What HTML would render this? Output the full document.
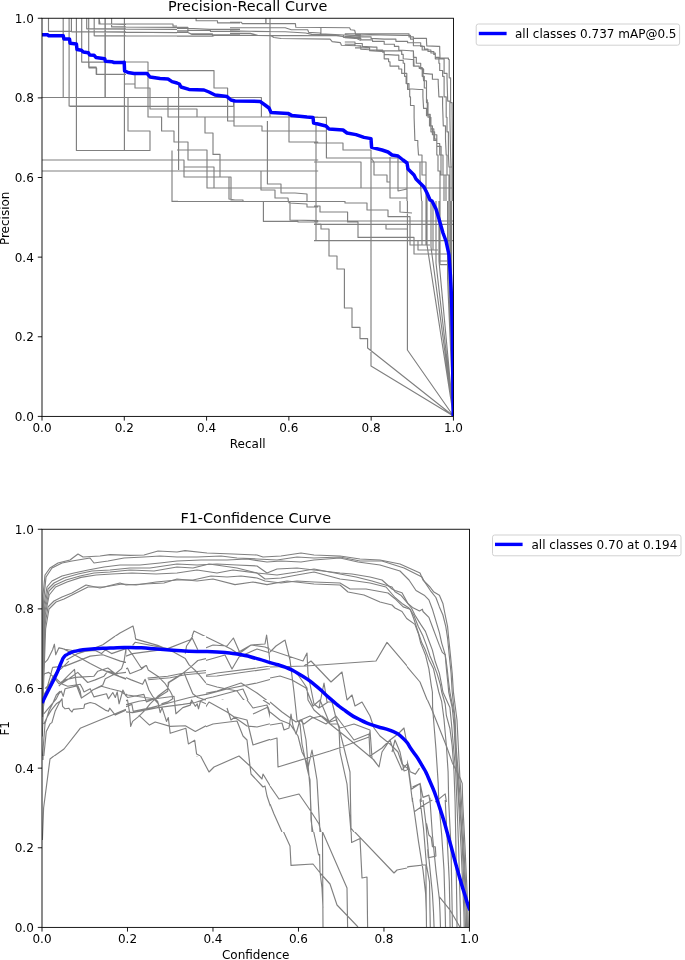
<!DOCTYPE html>
<html><head><meta charset="utf-8"><title>Curves</title>
<style>
html,body{margin:0;padding:0;background:#fff}
svg{display:block}
text{font-family:"DejaVu Sans","Liberation Sans",sans-serif;font-size:12px;fill:#000}
.t{font-size:14.4px}
.g{fill:none;stroke:#808080;stroke-width:1.15;stroke-linejoin:round}
.b{fill:none;stroke:#0000ff;stroke-width:3.5;stroke-linejoin:round;stroke-linecap:butt}
</style></head><body>
<svg width="685" height="960" viewBox="0 0 685 960">
<rect width="685" height="960" fill="#fff"/>
<defs><clipPath id="p0"><rect x="0" y="0" width="685" height="201"/></clipPath><clipPath id="p1"><rect x="0" y="201" width="685" height="219"/></clipPath><clipPath id="f0"><rect x="42" y="529" width="135" height="107"/></clipPath><clipPath id="f1"><rect x="42" y="756" width="135" height="171"/></clipPath><clipPath id="f2"><rect x="126" y="636" width="80" height="120"/></clipPath><clipPath id="f3"><rect x="42" y="636" width="84" height="120"/></clipPath><clipPath id="f4"><rect x="177" y="529" width="29" height="107"/><rect x="206" y="529" width="64" height="171"/><rect x="270" y="529" width="44" height="111"/></clipPath><clipPath id="f5"><rect x="177" y="756" width="29" height="171"/><rect x="206" y="700" width="64" height="227"/><rect x="270" y="832" width="10" height="95"/></clipPath><clipPath id="f6"><rect x="270" y="640" width="137" height="192"/></clipPath><clipPath id="f7"><rect x="407" y="529" width="63" height="171"/></clipPath><clipPath id="f8"><rect x="407" y="700" width="63" height="227"/></clipPath><clipPath id="f9"><rect x="280" y="832" width="127" height="95"/></clipPath><clipPath id="c1"><rect x="42" y="18.25" width="411.45" height="398.15"/></clipPath>
<clipPath id="c2"><rect x="42" y="529.25" width="427.45" height="398.15"/></clipPath></defs>

<g clip-path="url(#c1)">
<path class="g" d="M172,150.5 L172,201.4 L178,201.4"/>
<path class="g" d="M316,123 L316,240.5"/>
<path class="g" clip-path="url(#p0)" d="M48.5,18.1 L48.5,31.3 L71.4,31.3 L71.4,18.1 M71.4,31.9 L126,31.9 M63.2,18.1 L63.2,97.2 M69.1,18.1 L69.1,106 L126,106 M81.7,18.1 L81.7,62.1 L126,62.1 M86.7,18.1 L86.7,28.8 L126,28.8 M88.7,18.1 L88.7,67.1 L96.2,67.1 L96.2,74.3 L126,74.3 M94.2,18.1 L94.2,35.7 L126,35.7 M99,18.1 L100,23.8 L126,24.4 M105.3,18.1 L105.3,97.2 M111.6,18.1 L111.6,26.9 L126,26.9 M41.9,97.5 L126,97.5 M76.4,18 L76.4,150.5 L150,150.5 L150,131 L128,131 L128,97 M105,18 L105,97 M124.4,18 L124.4,150 M81.4,62 L148,62 L148,117 L161.6,117 L161.6,131 L174,131 L174,142 L177,142 M89,62 L89,68 L96.6,68 L96.6,74.4 L124.4,74.4 M124.4,84 L135,84 M135,73 L135,88 L150,88 L150,109 L177,109 M148,70.6 L177,70.6 M42,97.5 L177,97.5 M69.6,106.4 L177,106.4 M168,97 L168,117 L177,117 M42,160 L177,160 M42,171 L177,171 M94.4,36 L177,36 M99,18 L99,24 L173,24 L173,26 L177,26 M111.6,18 L111.6,27 L177,27.4 M86.4,29 L177,29.4 M98,32 L177,32.6 M177,70.6 L214,70.6 L214,88 L227.6,88 L227.6,121 L234,121 M177,97.5 L261.4,97.5 L261.4,117 M177,106.4 L233.6,106.4 L233.6,101 M234,101 L234,126 L262,126 L262,131 L318.2,131 M177,109 L197,109 L197,117 M177,117 L318.2,117 M205,117 L205,133 L213,133 L213,154.4 L220,154.4 L220,177 L231,177 L231,200 L243,200 L243,202 M178.6,84 L178.6,170 M177,142 L188,142 L188,160 L318.2,160 M177,150 L207,150 L207,188 L318.2,188 M214,188 L214,167 L184,167 M177,171 L318.2,171 M177,160 L184,160 L184,177 L220,177 M229,177 L229,199 L235,200 M261,170.6 L261,190 L275,190 L275,198 L288,198 L289,207 M267.4,121 L267.4,184 L281,184 L281,193 L295,193 L307,194 L307,207 M289,115 L289,142 L318.2,142 M270,18 L270,117 M266,18 L266,24 M177,202 L318.2,202 M263.4,202 L263.4,207 M196.1,18.1 L196.1,20.7 L217.5,20.7 L217.5,22.8 L240,22.8 M177,27.3 L187.9,27.3 L187.9,28.3 L210.4,29.3 L240,29.3 M177,28.3 L187.9,28.3 L187.9,30.3 L210.4,30.3 L210.4,31.3 L240,31.3 M177,30.9 L187.9,30.9 L187.9,32.4 L190.9,33.8 L212.4,33.8 L212.4,34.8 L240,34.8 M177,32.4 L187.9,32.4 L192,34.4 L212.4,34.4 L212.4,35.4 L240,35.4 M177,36.1 L212.4,36.1 L214.4,35.4 L240,35.4 M230,22.2 L241.2,22.2 L242.3,23.6 L295.4,23.6 L295.8,27.3 L349.6,27.7 L350.6,29.7 L354.7,30.3 L355.7,34.4 L360.8,34.4 M230,27.7 L285.2,27.7 L291.3,29.7 L307.7,29.7 L308.7,32.4 L319.9,33 L320.9,33.8 L344.4,35 L360.8,35.8 M320.9,27.7 L320.9,33.4 M230,30.9 L250.4,31.3 L285.2,31.8 L305.6,33 L311.7,34.4 L343.4,35 L343.4,37.5 L354.7,37.5 L358.8,39.5 L360.8,40.5 M230,33.4 L250.4,33.4 L257.6,35.4 L336.3,35.8 L344.4,36.7 L360.8,37.9 M230,35.4 L257.6,35.4 L270.9,35.8 L273.9,37.5 L281.1,38.5 L330.1,39.1 L332.2,41.6 L340.4,42.6 L341.4,45.2 L356.7,45.7 L360.8,46.1 M265.8,18.1 L265.8,23.6 M344.8,33.7 L355,33.7 L405.4,33.7 L409,33.7 L409,36.9 L413.4,36.9 L413.4,38.1 L423.6,38.4 L426.5,38.4 L426.5,41.3 L426.8,45.9 L438.2,46.4 L439.7,46.4 L439.7,50 L440,58.1 L448.4,58.1 L448.4,59.5 L449.2,59.5 L449.2,77.8 L450.6,77.8 L450.6,102.6 L452.1,102.6 L452.1,108.4 L452.5,155 L452.4,207 M344.8,35.1 L355,35.4 L369.6,34.7 L403.2,35.4 L410.5,35.4 L410.5,39.1 L413.4,39.1 L413.4,42.7 L420.7,42.7 L420.7,46.4 L424.4,46.4 L424.4,49 L428,49 L428,51.5 L433.8,51.5 L433.8,54.4 L435.3,54.4 L435.3,58.8 L443.3,58.8 L444.1,58.8 L444.1,73.4 L447,73.4 L447,77.8 L447.7,101.1 L449.9,101.1 L449.9,117.2 L450.6,155 L451,167 L452,167 L452,207 M344.8,36.3 L355,36.9 L371.1,36.9 L371.1,38.4 L384.2,39.1 L395.9,39.1 L395.9,41.3 L407.6,41.3 L407.6,42.7 L413.4,42.7 L413.4,45.7 L422.2,45.7 L422.2,50 L430.9,50 L430.9,53 L435.3,53 L435.3,57.3 L438.9,57.3 L438.9,63.2 L439.7,63.2 L439.7,70.5 L442.6,70.5 L442.6,76.3 L444.1,76.3 L444.1,96.8 L446.2,96.8 L446.2,117.2 L447,117.2 L447,131.8 L448.4,131.8 L448.4,155 L449,167 L450,167 L450,207 M344.8,37.6 L355,38.4 L360.8,38.4 L360.8,39.8 L372.5,39.8 L372.5,41.3 L384.2,41.3 L384.2,44.2 L394.4,44.2 L394.4,46.4 L398.8,46.4 L398.8,50 L410.5,50.8 L413.4,50.8 L413.4,57.3 L416.3,57.3 L416.3,63.2 L420.7,63.2 L420.7,69 L423.6,69 L423.6,73.4 L430.9,74.1 L432.4,74.1 L432.4,79.2 L438.2,79.2 L438.2,82.2 L438.9,96.8 L442.6,96.8 L442.6,105.5 L443.3,125.9 L445.5,125.9 L445.5,139.1 L446.2,155 L447,155 L447,175 L449,175 L449,207 M344.8,42 L355,42 L355,43.5 L362.3,43.5 L362.3,46.4 L374,47.1 L376.9,47.1 L376.9,50.8 L397.3,50.8 L401.7,50.8 L401.7,54.4 L403.2,54.4 L403.2,58.8 L411.9,59.5 L413.4,59.5 L413.4,66.1 L419.2,66.1 L419.2,67.6 L422.2,67.6 L422.2,76.3 L424.3,76.3 L424.3,88 L426.5,88 L426.5,99.7 L427.3,99.7 L427.3,114.3 L430.2,114.3 L430.2,125.9 L432.4,125.9 L432.4,134.7 L436.8,134.7 L436.8,143.5 L439.7,143.5 L439.7,155 L441,155 L441,175 L444,175 L444,207 M344.8,44.2 L355,44.2 L355,45.7 L360.8,45.7 L360.8,49.3 L374,50 L382.7,50 L382.7,52.2 L384.2,52.2 L384.2,58.8 L388.6,58.8 L388.6,61.7 L390,61.7 L390,66.1 L398.8,66.1 L398.8,69 L401.7,69 L401.7,73.4 L404.6,73.4 L404.6,76.3 L406.1,76.3 L406.1,83.6 L409,83.6 L409,88.7 L419.2,89.5 L422.9,89.5 L422.9,96.8 L423.6,108.4 L426.5,108.4 L426.5,115.7 L429.5,115.7 L429.5,125.9 L430.9,125.9 L430.9,131.8 L434.6,131.8 L434.6,139.1 L436.8,139.1 L436.8,146.4 L441.1,146.4 L441.1,155 L443,155 L443,175 L446,175 L446,207 M355,47.8 L369.6,47.8 L369.6,50.8 L381.3,51.5 L384.2,51.5 L384.2,54.4 L395.9,55.1 L398.8,55.1 L398.8,60.3 L403.2,60.3 L403.2,63.2 L404.6,63.2 L404.6,73.4 L406.8,73.4 L406.8,83.6 L407.6,83.6 L407.6,89.5 L409.7,89.5 L409.7,96.8 L410.5,96.8 L410.5,105.5 L414.1,105.5 L414.1,117.2 L414.9,140.5 L417.8,140.5 L417.8,144.9 L418.5,155 L420,155 L422,155 L422,175 L426,175 L426,191 L427,191 L427,207 M413.4,51.5 L414.1,66.1 L419.2,66.1 L419.2,68.3 L422.9,68.3 L422.9,73.4 L423.6,80.7 L426.5,80.7 L426.5,102.6 L428,102.6 L428,117.2 L430.9,117.2 L430.9,128.9 L433.8,128.9 L433.8,140.5 L436.8,140.5 L436.8,155 L438,155 L438,171 L440,171 L440,207 M314,117.4 L326.4,117.4 L326.4,158 L398,158 M314,143 L343,143 L343,150 L371,150 L371,207 M407,163 L407,207 M314,162 L361,162 L361,188 M314,188 L455,188 M371,162 L426,162 L426,207 M390,157 L390,198 L407,198 L407,189 L398,191 L398,157 M371,158 L374,162 L374,175 L387,175 L387,182 L390,182 M314,202 L345,202 L345,203 L398,203 M420,162 L420,177 L422,207 M314,131 L326.4,131"/>
<path class="g" clip-path="url(#p1)" d="M177,201.4 L318.2,201.4 M263.4,201.4 L263.4,221.4 L298,221.4 L298,222 L318.2,222 M290,201.4 L290,220 L318.2,220.6 M275,195 L275,198 L288,198 L289,203 L307,204 L307,207 L318.2,207 M229,195 L229,200 L244,201 M371,195 L371,366 L453.4,416 M314,224 L321,224 L321,229 L329,229 L329,256 L337,256 L337,269 L344.4,269 L344.4,308 L352,308 L352,327.4 L360,327.4 L360,338.6 L367.6,338.6 L367.6,348 L453.4,416 M407.4,195 L407.4,350 L453.4,416 M427,195 L427,245 L453.4,416 M431,195 L431,247 L453.4,416 M436,195 L436,263 L453.4,416 M439,195 L439,261 L453.4,416 M314,201.4 L345,201.4 L345,203 L367,203 L367,210 L388,210 L388,216.6 L410,216.6 L410,245 L430,245 M314,206 L320,206 L320,212 L347.6,212 L347.6,222 L358,222 L358,237.4 L414,237.4 L414,254 L448,254 M314,221 L455,221 M314,224.4 L386,224.4 L386,229 L408,229 M314,224.4 L455,224.4 M314,240.6 L455,240.6 M390,195 L390,197.4 L400,197.4 L400,212 L412,213 M418,241 L418,250 L438,250 M440,261 L448,261 M440,264.6 L448,264.6 M447.6,195 L447.6,279 L453.4,416 M449,195 L449,279 L453.4,416 M450.4,195 L450.4,279 L453.4,416 M451.6,195 L451.6,279 L453.4,416 M422,195 L422,245 M426,195 L426,245 M433,195 L433,250 M440,195 L440,264.6"/>
<path class="b" d="M41.9,34.8 L47.5,34.8 L48.8,35.7 L63.2,35.7 L63.9,38.9 L69.5,39.1 L70.1,43.2 L76.4,43.9 L77,49.5 L81.4,50.2 L83.3,52 L88.3,52.7 L89.6,54.9 L94,55.2 L95.9,57.4 L104.7,58.7 L105.3,61.2 L111.6,61.7 L114.1,62.5 L123.5,62.5 L124.2,62.2 L124.6,71 L128,72.4 L134,73.4 L147,73.4 L150,77 L160,78.6 L168,79 L172,81.6 L177,83 L179.4,84 L181,87 L189,89.4 L204,90 L209,92 L215,95 L227,96.6 L231,100 L235,101 L260,101.4 L265,105 L269,108 L271,112.4 L288,113.4 L292,115.6 L307,117 L313,117.4 L313.6,123 L318,124 L326,126 L329,129 L343,130 L347,133 L356,134.6 L364,137.4 L371,138.6 L371.6,147.4 L382,150 L388,152 L392,155 L398,156 L403,160 L407,163 L408,169 L414,175 L416,179 L424,187 L427,193 L430,200 L432,201 L436,209 L439,219 L443,233 L446,241 L449,255 L450.4,275 L451.6,299 L452.4,335 L453.2,416"/>
</g>
<rect x="42" y="18.25" width="411.45" height="398.15" fill="none" stroke="#000" stroke-width="0.9"/>
<line x1="42" y1="416.4" x2="42" y2="420.59999999999997" stroke="#000" stroke-width="0.9"/>
<text x="42" y="432.4" text-anchor="middle">0.0</text>
<line x1="37.8" y1="416.4" x2="42" y2="416.4" stroke="#000" stroke-width="0.9"/>
<text x="33.8" y="420.8" text-anchor="end">0.0</text>
<line x1="124.29" y1="416.4" x2="124.29" y2="420.59999999999997" stroke="#000" stroke-width="0.9"/>
<text x="124.29" y="432.4" text-anchor="middle">0.2</text>
<line x1="37.8" y1="336.77" x2="42" y2="336.77" stroke="#000" stroke-width="0.9"/>
<text x="33.8" y="341.17" text-anchor="end">0.2</text>
<line x1="206.58" y1="416.4" x2="206.58" y2="420.59999999999997" stroke="#000" stroke-width="0.9"/>
<text x="206.58" y="432.4" text-anchor="middle">0.4</text>
<line x1="37.8" y1="257.14" x2="42" y2="257.14" stroke="#000" stroke-width="0.9"/>
<text x="33.8" y="261.54" text-anchor="end">0.4</text>
<line x1="288.87" y1="416.4" x2="288.87" y2="420.59999999999997" stroke="#000" stroke-width="0.9"/>
<text x="288.87" y="432.4" text-anchor="middle">0.6</text>
<line x1="37.8" y1="177.51" x2="42" y2="177.51" stroke="#000" stroke-width="0.9"/>
<text x="33.8" y="181.91" text-anchor="end">0.6</text>
<line x1="371.16" y1="416.4" x2="371.16" y2="420.59999999999997" stroke="#000" stroke-width="0.9"/>
<text x="371.16" y="432.4" text-anchor="middle">0.8</text>
<line x1="37.8" y1="97.88" x2="42" y2="97.88" stroke="#000" stroke-width="0.9"/>
<text x="33.8" y="102.28" text-anchor="end">0.8</text>
<line x1="453.45" y1="416.4" x2="453.45" y2="420.59999999999997" stroke="#000" stroke-width="0.9"/>
<text x="453.45" y="432.4" text-anchor="middle">1.0</text>
<line x1="37.8" y1="18.25" x2="42" y2="18.25" stroke="#000" stroke-width="0.9"/>
<text x="33.8" y="22.65" text-anchor="end">1.0</text>
<text class="t" x="247.725" y="10.6" text-anchor="middle">Precision-Recall Curve</text>
<text x="247.725" y="448.2" text-anchor="middle">Recall</text>
<text transform="translate(8.9,218.325) rotate(-90)" text-anchor="middle">Precision</text>
<rect x="476.2" y="24" width="203.4" height="21.2" rx="2.2" fill="#fff" stroke="#ccc" stroke-width="0.9"/>
<line x1="478.8" y1="33.5" x2="506.6" y2="33.5" stroke="#00f" stroke-width="3.4"/>
<text x="515" y="37.6">all classes 0.737 mAP@0.5</text>
<g clip-path="url(#c2)">
<path class="g" d="M42.2,717 L42.4,645 L43,595 L45,575 L50,568 L58,563 L70,560 L78,554 L83,557 L100,556 L110,554.6 L130,555.4 L144,555 L158,551 L177,552 L177,552 L185,550.6 L207,553 L233,554 L257,555 L263,557 L281,556 L301,553 L314,555 L340,556 L360,559 L380,560 L400,564 L420,573 L423,580 L430,587 L433.5,591.7 L439.4,595.2 L442.9,603.4 L445.2,615 L447.6,626.7 L448.7,638.4 L450.5,655.9 L452.2,673.4 L453.4,692 L457,720 L458.5,750 L460,780 L461.5,802 L464,850 L467,912 L467.5,927"/>
<path class="g" d="M42.2,717 L42.4,653 L43.6,601 L46,577 L52,568 L62,563 L72,561 L90,558 L94,563 L108,561 L124,558 L144,557 L160,556 L177,557 L177,557 L197,557 L221,556 L237,558 L257,559 L277,560 L297,557 L314,558 L340,557 L360,561 L382,561 L404,568 L422,577 L424.2,581.2 L431.2,591.7 L435.9,597.5 L439.4,606.9 L442.9,615 L445.8,626.7 L447.6,638.4 L449.3,655.9 L451.1,673.4 L452.2,692 L455.1,719.2 L456.3,748.4 L458.1,771.8 L460.4,802 L462,840 L465,912 L465.5,927"/>
<path class="g" d="M42.2,717 L42.8,655 L44,605 L47,587 L52,581 L62,576 L74,573 L88,570 L104,567 L120,565 L140,565 L160,563 L177,561 L177,561 L201,560 L227,560 L247,559 L267,562 L281,561 L301,562 L314,560 L340,558 L358,562 L380,565 L400,571 L409,580 L416,590.5 L424.2,595.2 L428.9,599.9 L432.4,609.2 L435.9,620.9 L439.4,632.6 L441.7,643.1 L445.2,654.7 L447,667.6 L448.7,682.8 L449.9,692 L454,713.4 L455.1,736.7 L456.3,760 L458.1,783.4 L459.2,802 L462.7,840.9 L466.2,912 L466.6,927"/>
<path class="g" d="M42.4,717 L43,665 L44.4,609 L48,589 L54,583 L64,578 L78,574 L92,571 L110,570 L130,568 L150,568 L177,564 L177,564 L197,565 L217,564 L237,565 L257,566 L267,573 L277,569 L297,568 L314,570 L340,573 L352,574 L370,577 L382,580 L392,589 L395,590.5 L402,592.8 L407.8,603.4 L412.5,607.4 L419.5,610.9 L422.4,609.2 L423,611.5 L428.9,617.4 L432.4,626.7 L435.9,636.1 L439.4,645.4 L442.3,652.4 L445.2,654.7 L446.4,668.8 L448.1,685.1 L448.7,692 L452.2,707.5 L454,725 L455.1,746 L456.9,771.8 L458.6,802 L461,846.7 L463.9,912 L464.2,927"/>
<path class="g" d="M42.4,717 L43.2,669 L45,611 L49,591 L55,585 L66,580 L80,576 L94,573 L110,572 L130,570 L154,571 L177,567 L177,567 L193,568 L209,564 L237,568 L257,573 L277,575 L297,572 L314,569 L340,574 L356,577 L372,581 L392,587 L395,591.7 L400.8,595.2 L406.7,602.2 L411.4,608 L414.9,615 L420.7,624.4 L425.4,631.4 L428.9,640.7 L432.4,650.1 L435.3,661.8 L439.4,673.4 L441.7,685.1 L442.9,692 L449.9,707.5 L451.6,725 L453.4,746 L455.7,771.8 L456.9,802 L458.6,846.7 L460.4,912 L460.6,927"/>
<path class="g" d="M42.4,717 L43.4,673 L45.2,615 L49.2,595 L55.6,587 L67,582 L81,577.4 L96,575 L112,574 L132,573 L156,574 L177,573 L177,573 L197,570 L217,573 L233,570 L257,573 L265,579 L281,578 L297,575 L314,572 L340,579 L356,581 L370,583 L386,587 L395,597.5 L402,603.4 L409,608 L413.7,615 L418.4,626.7 L423,636.1 L426.5,645.4 L430,655.9 L433.5,664.1 L437,673.4 L440.5,685.1 L441.7,692 L445.2,704 L446.4,715.7 L449.9,728.5 L452.2,746 L454,771.8 L455.1,802 L455.7,835 L456.9,912 L457,927"/>
<path class="g" d="M42.6,717 L43.6,685 L45.6,629 L49,609 L56,602 L64,599 L74,594 L88,587 L104,587 L122,584 L136,585 L156,582 L177,580 L177,580 L193,580 L211,576 L227,577 L241,576 L257,578 L265,581 L281,583 L297,581 L314,582 L340,583 L350,589 L366,589 L388,593 L395,598.7 L403.2,606.9 L410.2,609.2 L413.7,618.5 L417.2,629.1 L421.9,643.1 L425.4,650.1 L428.9,659.4 L433.5,668.8 L435.9,679.3 L438.8,692 L441.7,701.7 L444,719.2 L446.4,746 L448.1,771.8 L448.7,802 L451,846.7 L452.2,912 L452.4,927"/>
<path class="g" d="M42.6,717 L43.2,677 L45,625 L48,607 L54,601 L62,597 L72,593 L86,585 L100,588 L120,583 L126,585 L144,584 L164,583 L177,579 L177,579 L197,581 L213,579 L235,584.6 L253,582 L267,584.6 L287,581 L314,584 L340,585 L348,592 L364,595 L380,602 L392,605 L395,608 L402,611.5 L406.7,618.5 L414.9,624.4 L418.4,633.7 L420.7,643.1 L425.4,654.7 L428.9,668.8 L431.2,685.1 L432.4,692 L432.6,707.5 L434,725 L435.9,748.4 L438.2,783.4 L438.8,802 L441.7,835 L444,870 L445.2,912 L445.5,927"/>
<path class="g" clip-path="url(#f0)" d="M42.4,705 L44,669 L50,653 L54,645 L56,661 L59,648 L64,649 L80,665 L96,661 L116,673 L126,653 L128,677 L144,665 L152,681 L177,673 M59,648 L66,661 L90,653 L102,645 L120,633 L133,626 L136,639 L160,645 L177,653 M42.4,677 L48,663 L60,685 L76,671 L80,693 L96,673 L106,669 L120,661 L128,653 L140,669 L152,697 L168,685 L177,677 M46,717 L52,697 L62,685 L74,669 L90,683 L110,667 L140,685 L146,679 L152,697 L160,713 L164,717 M52,717 L58,701 L70,697 L88,689 L100,699 L110,691 L118,705 L122,689 L134,717 M44,717 L50,699 L60,689 L80,685 L92,695 L106,697 L124,691 L144,695 L160,701 L177,699 M56,717 L60,703 L84,707 L100,701 L120,709 L140,705 L160,709 L177,705 M62,681 L80,677 L110,674 L144,669 L177,675"/>
<path class="g" clip-path="url(#f1)" d="M42.4,840 L43.6,808 L50,759 L64,748 L80,728 L114,713 L140,708 L177,704 M43,760 L44,716 L52,724 L58,706 L62,700 M110,700 L128,712 L131,726 L134,716 L140,715 L149,725 L154,722 L168,726 L171,733 L177,731 M160,700 L163,712 L168,722 L170,728 M60,702 L64,709 L68,708 L72,712 L84,708 L86,704 L92,702"/>
<path class="g" clip-path="url(#f2)" d="M135.1,636 L135.7,639.1 L157.7,645.4 L174,652.3 L185.3,658.6 L189.1,664.9 L195.3,670.5 L200.4,676.2 L206,683.1 M120,672.4 L125,661.1 L126.3,646.7 L132.6,654.8 L141.3,668 L146.4,665.5 L148.2,669.9 L157.7,676.2 L165.2,683.7 L170.2,691.2 L172.1,695 L172.7,698.8 L167.7,701.9 L161.4,703.8 M132.6,645.4 L135.1,642.3 L167.7,648.6 L190.3,639.8 L192.8,636 M120,658.6 L132.6,653.6 L151.4,651.1 L170.2,648.6 M185.3,653.6 L186.5,646 L192.2,637.9 L197.8,649.8 M120,672.4 L127.5,668 L130,673.7 L141.3,669.3 L145.7,665.5 M120,674.9 L131.3,679.9 L142.6,684.3 L145.1,679.3 L148.9,690 L152.6,696.3 L157.7,701.3 L160.2,712.6 L162.1,707.6 L166.5,721.4 L168.3,717.6 L170.2,733.3 L185.9,728.3 L188.4,744 L194.7,740.2 L196.6,754 L200.4,756 M147.6,678.1 L167.7,676.2 L184,673 L206,670.5 M148.2,679.7 L170.2,677.7 L185.3,674.7 L206,672.7 M184,672.4 L186.5,678.7 L192.8,693.8 L197.8,697.5 L206,700 M120,695 L121.9,690 L127.5,697.5 L143.9,694.4 L146.4,701.9 L157.7,697.5 L167.7,691.2 L168.3,682.5 L184,672.4 M120,703.8 L127.5,700 L129.4,711.3 L130.7,726.4 L132.6,721.4 L138.8,716.4 L145.1,710.1 L150.1,703.8 L157.7,696.3 L167.7,688.7 L169,682.5 L179,676.2 L190.3,667.4 L197.8,660.5 L206,658.6 M120,708.8 L131.9,704.4 L133.2,711.3 L151.4,707.6 L175.2,701.3 L189.7,697.5 L206,694.4 M120,711.3 L132.6,712.6 L157.7,707.6 L182.8,704.4 L195.3,702.5 L206,698.8 M120,706.3 L138.8,701.3 L155.2,698.8 L174,696.3 L175.9,713.8 L182.8,707.6 L190.3,705.1 L191.6,700 L195.3,706.3 L197.2,703.8 L198.5,708.8 L200.4,701.3 L206,703.8 M120,691.2 L127.5,695 L136.3,696.3 L153.9,698.8 L158.9,704.4 M138.8,715.1 L149.5,725.1 L155.2,722 L170.2,726.4 L185.3,725.8 L195.3,731.4 L206,725.8"/>
<path class="g" clip-path="url(#f3)" d="M43.8,723.9 L47.5,716.4 L51.3,710.1 L56.3,703.8 L60.1,701.3 L62,698.8 L62.6,706.3 L65.1,708.8 L68.9,708.2 L70.1,710.1 L72,712 L73.3,709.4 L83.9,708.2 L84.6,704.4 L90.2,702.5 L95.2,703.8 L105.3,710.1 L108.4,711.3 L109.7,708.2 L115.3,715.1 L126,710.1 M43.8,713.8 L50,706.3 L56.3,698.8 L58.8,693.8 L61.3,691.2 L63.2,696.3 L65.1,688.7 L77.7,685.6 L80.2,691.2 L81.4,698.1 L89,693.1 L92.7,690 L101.5,686.2 L110.3,688.7 L120.4,691.2 L126,695 M45,688.7 L50,683.7 L56.3,678.7 L61.3,683.7 L67.6,686.2 L80.2,684.3 L82.7,688.7 L83.9,691.9 L90.2,688.7 L94,696.9 L106.5,693.8 L108.4,698.8 L112.8,692.5 L115.3,697.5 L117.2,691.9 L119.1,703.8 L122.9,690 L126,696.3 M42.5,677.4 L44.4,673.7 L48.8,672.4 L53.8,677.4 L58.8,683.7 L62.6,681.2 L68.9,674.9 L74.5,669.3 L76.4,685 L80.2,695 L81.4,698.1 M61.3,683.7 L68.9,678.7 L77.7,672.4 L87.7,682.5 L95.2,679.9 L104,676.2 L107.8,671.2 L112.8,672.4 L119.1,676.2 L126,678.7 M58.8,686.2 L65.1,679.9 L75.2,677.4 L94,676.2 L97.8,671.2 L107.8,668 L115.3,673.7 L126,672.4 M42.5,668.6 L43.8,663.6 L47.5,659.9 L52.6,649.8 L54.4,644.2 L55.7,654.8 L58.8,647.9 L62.6,648.6 L67.6,651.1 L78.9,657.3 L90.2,663.6 L102.8,669.9 L115.3,674.9 L126,679.3 M58.8,647.9 L65.1,649.2 L80.2,651.7 L95.2,650.4 L101.5,653.6 L105.3,649.8 L111.6,653.6 L126,648.6 M66.4,659.9 L77.7,653.6 L90.2,649.8 L102.8,644.8 L115.3,636 M52.6,667.4 L65.1,666.1 L77.7,661.1 L90.2,656.1 L102.8,654.8 L120.4,661.1 L126,662.4 M126,648.6 L124.1,661.1 L121.6,668.6 L115.3,673.7 L105.3,678.7 L102.8,685 L92.7,690 M42.5,701.3 L44.4,693.8 L47.5,688.7 L52.6,677.4 L56.3,672.4 L61.3,668.6 L68.9,661.1 M50,759 L64,749 L80.2,728.3 L115.3,713.8 L126,709.4 M42.5,756 L43.1,749 L45,723.9 L48.8,711.3 L52.6,703.8 L56.3,695 L60.1,691.2 M42.8,756 L43.8,756 L46.3,731.4 L50,723.9 L51.9,722.6 L55.1,711.3 L58.8,703.8 L62,698.8 M42.3,736.4 L43.5,706.3 L45,696.3 L47.5,686.2 L50,677.4 L52.6,667.4"/>
<path class="g" clip-path="url(#f4)" d="M177,647 L191,639 L194,631 L231,649 L237,653 L251,645 L265,647 L297,661 L314,665 M177,653 L185,645 L192,639 L198,651 L213,645 L227,646 L233.4,638 L240,653 L251,645 L265,644 L266.6,635 L271,669 L275,653 L285,640 L291,665 L293,685 L297,717 M177,679 L185,674 L197,663 L225,655 L232,669 L239,657 L257,649 L277,655 L303,663 L307,654 L309,685 L314,709 M177,681 L217,673 L257,668 L303,661 L314,665 M177,677 L217,676 L267,669 L301,665 L310,662 L314,665 M177,655 L185,661 L193,671 L203,683 L217,687 L237,691 L243,699 L253,709 L265,705 L271,717 M177,699 L197,695 L217,691 L241,683 L257,693 L273,705 L289,717 M177,703 L197,697 L227,689 L257,683 L279,677 L289,683 L305,689 L309,705 L314,717 M177,709 L189,697 L193,705 L197,707 L203,701 L207,709 L213,703 L223,700 L229,717 M177,705 L213,697 L243,689 L251,707 L257,717 M177,673 L184,673 L189,685 L193,701 L199,709"/>
<path class="g" clip-path="url(#f5)" d="M177,730 L186,727 L188,743 L195,740 L197,756 L199,753 L209,772 L214,767 L239,756 L250,766 L251,774 L263,787 L265,786 L267,796 L273,814 L275,815 L290,846 L291,865.6 L314,864 M177,728 L185,726 L195,731 L213,724 L237,721 L243,736 L247,740 L250,766 L262,779 L263,774 L278,799 L299,794 L314,816 M227,708 L231,720 L235,717 L247,720 L253,745 L277,737 L278,767 L305,759 L309,766 L311,800 L314,838 M177,712 L183,706 L193,703 L197,708 L201,702 L205,708 L209,702 L227,712 L247,726 L257,727 L277,722 L283,730 L289,728 L291,714 L295,736 L297,720 L314,714 M247,700 L253,708 L267,705 L271,720 L281,722 L285,724 M253,714 L268,707 L273,722 M296,700 L299,724 L303,742 L307,766 M263,700 L297,722 L314,732 M301,720 L305,756 L308,748 L307,766"/>
<path class="g" clip-path="url(#f6)" d="M270,667 L306,666 L376,661 L387,642.4 L407,666 L420,682 L434,717 M270,652 L276,646 L285,640 L290,660 L294,692 L297,720 L300,724 L302,744 L307,768 L310,780 L311,820 L313,832 M270,650 L303,661 L307,653 L308,674 L314,704 L319,708 L328,702 L332,702 L336,718 L339,728 L340,752 L347,784 L351,832 M304,666 L311,661 L331,682 L342,672 L347,700 L352,695 L355,706 L362,702 L370,716 L374,728 L380,736 L390,744 L398,752 L402,764 L407,768 M270,678 L280,676 L292,680 L306,688 L313,706 L320,700 L330,724 L338,724 L350,772 L351,828 L354,832 M270,702 L282,712 L296,722 L310,716 L326,724 L336,716 L354,740 L369,734 L370,756 L382,748 L390,740 L394,752 L402,770 L407,764 M270,725 L282,723 L284,730 L289,728 L291,714 L293,726 L296,734 L300,720 L304,724 L312,718 L322,716 L330,722 L336,720 L340,728 L354,724 L370,730 L372,758 L379,767 L382,752 L390,740 M270,740 L277,738 L278,767 L330,751 L339,748 L369,737 L370,731 M270,712 L280,720 L290,724 L298,736 L302,752 L306,760 L308,768 L312,750 L317,780 L320,832 M296,672 L303,682 L307,688 L308,700 L314,710 L330,724 L350,740 L374,760 L379,767 M270,786 L279,799 L299,794 L310,810 L319,824 L321,832 M270,804 L274,814 L282,832 M319,708 L324,683 L327,702 M298,722 L302,720 L306,740 L310,788 L312,832 M390,740 L398,734 L404,728 L407,744 M392,752 L395,740 L400,752 L404,771 L407,770"/>
<path class="g" clip-path="url(#f7)" d="M340,664 L376,661.4 L387,643 L420,682 L434,717 M340,674 L343,673 L346,699 L349,717 M340,703 L348,697 L352,695 L355,705 L361,702 L370,715 L372,717"/>
<path class="g" clip-path="url(#f8)" d="M395,733.2 L404.3,728 L406.1,739.1 L395,746.1 M395,748.4 L399.7,750.7 L404.3,764.7 L403.2,770.6 L407.3,769.4 L406.7,760.1 L410.2,771.8 L415.4,774.1 L419.5,768.2 M395,739.1 L398.5,749.6 L403.2,762.4 L407.8,765.9 L410.2,783.4 L412.5,802 M409,771.8 L411.4,789.3 L420.1,783.4 L421.3,802 M412.5,786.9 L420.1,783.4 L423,797.4 L428.9,795.1 L430,802 M435.3,802 L445.2,793.9 L446.4,802 M412.5,797.7 L412.5,800 L414.3,811.7 L418.4,840.9 L423,870.1 L425.6,893.4 L426.3,912 L426.5,927.9 M421.3,797.7 L420.1,800 L423.6,829.2 L426.5,865.4 L429.5,881.8 L430,912 L430.3,927.9 M423,800 L425.9,823.4 L428.9,858.4 L432.4,893.4 L433.5,912 L434.1,927.9 M430,797.7 L430,800 L432.4,835 L435.9,870.1 L439.4,899.3 L440,912 L440.5,927.9 M414.3,811.7 L424.2,804.7 L432.4,800 M395,872.4 L397.3,869.5 L409,866.6 L425.9,864.8 L426.3,912 M426.5,823.4 L428.9,835 L431.2,837.4 L432.4,846.7 L435.3,846.7 L435.9,856.1 L428.3,857.8 L427.7,849.1 M445.2,800 L447,835 L449.3,881.8 L449.9,912 L450.1,927.9 M439.4,896.9 L449.9,909.8 L460.4,927.9 M423,690 L432.4,711 L446.4,746 L452.2,762.4 L460.4,778.8 L462.2,783.4 L462.7,802 L465,846.7 L468,912 L468.5,927"/>
<path class="g" clip-path="url(#f9)" d="M322.4,821 L323,927 M310.4,816 L315,838 L318.6,855 L319.6,854.4 L320,872 L322,888 L323,908 M320,826 L347,888 L347.6,927 M280,824 L290,846 L291,865.4 L313,864 L321,874 L330,884 L337,905 L358,927 M351,828 L351.6,842.4 L360,838.4 L362,878 L367,877 L367.6,927 M351,828 L394,873 L397,870 L417,866"/>
<path class="b" d="M42,703 C44.0,699.0 43.3,700.3 48,691 C52.7,681.7 51.7,684.3 56,675 C60.3,665.7 58.3,669.0 61,663 C63.7,657.0 62.0,659.8 64,657 C66.0,654.2 65.0,655.9 67,654.6 C69.0,653.3 66.3,654.3 70,653 C73.7,651.7 70.7,651.9 78,650.6 C85.3,649.3 81.3,649.9 92,649 C102.7,648.1 97.3,648.5 110,648 C122.7,647.5 116.7,647.5 130,647.6 C143.3,647.7 134.3,647.4 150,648.4 C165.7,649.4 161.3,649.6 177,650.6 C192.7,651.6 183.7,650.9 197,651.4 C210.3,651.9 203.7,651.1 217,652 C230.3,652.9 223.7,651.8 237,654 C250.3,656.2 246.0,655.7 257,658.6 C268.0,661.5 260.6,659.8 270,662.7 C279.4,665.6 275.0,663.2 285.1,667.2 C295.2,671.2 290.1,668.8 300.2,674.8 C310.3,680.8 305.2,677.3 315.3,685.3 C325.4,693.3 320.3,690.3 330.4,698.9 C340.5,707.5 335.5,703.9 345.6,711 C355.7,718.1 350.6,715.1 360.7,720.1 C370.8,725.1 365.7,722.6 375.8,726.1 C385.9,729.6 381.8,726.7 390.9,730.7 C400.0,734.7 396.0,731.7 403,738.2 C410.0,744.7 406.0,741.7 412,750.3 C418.0,758.9 415.0,753.3 421.1,763.9 C427.2,774.5 424.2,767.9 430.2,782 C436.2,796.1 433.2,788.1 439.2,806.2 C445.2,824.3 442.2,815.2 448.3,836.4 C454.4,857.6 451.4,848.5 457.4,869.7 C463.4,890.9 462.2,886.3 466.4,899.9 C470.6,913.5 468.9,907.0 470.1,910.5"/>
</g>
<rect x="42" y="529.25" width="427.45" height="398.15" fill="none" stroke="#000" stroke-width="0.9"/>
<line x1="42" y1="927.4" x2="42" y2="931.6" stroke="#000" stroke-width="0.9"/>
<text x="42" y="943.4" text-anchor="middle">0.0</text>
<line x1="37.8" y1="927.4" x2="42" y2="927.4" stroke="#000" stroke-width="0.9"/>
<text x="33.8" y="931.8" text-anchor="end">0.0</text>
<line x1="127.49" y1="927.4" x2="127.49" y2="931.6" stroke="#000" stroke-width="0.9"/>
<text x="127.49" y="943.4" text-anchor="middle">0.2</text>
<line x1="37.8" y1="847.77" x2="42" y2="847.77" stroke="#000" stroke-width="0.9"/>
<text x="33.8" y="852.17" text-anchor="end">0.2</text>
<line x1="212.98" y1="927.4" x2="212.98" y2="931.6" stroke="#000" stroke-width="0.9"/>
<text x="212.98" y="943.4" text-anchor="middle">0.4</text>
<line x1="37.8" y1="768.14" x2="42" y2="768.14" stroke="#000" stroke-width="0.9"/>
<text x="33.8" y="772.54" text-anchor="end">0.4</text>
<line x1="298.47" y1="927.4" x2="298.47" y2="931.6" stroke="#000" stroke-width="0.9"/>
<text x="298.47" y="943.4" text-anchor="middle">0.6</text>
<line x1="37.8" y1="688.51" x2="42" y2="688.51" stroke="#000" stroke-width="0.9"/>
<text x="33.8" y="692.91" text-anchor="end">0.6</text>
<line x1="383.96" y1="927.4" x2="383.96" y2="931.6" stroke="#000" stroke-width="0.9"/>
<text x="383.96" y="943.4" text-anchor="middle">0.8</text>
<line x1="37.8" y1="608.88" x2="42" y2="608.88" stroke="#000" stroke-width="0.9"/>
<text x="33.8" y="613.28" text-anchor="end">0.8</text>
<line x1="469.45" y1="927.4" x2="469.45" y2="931.6" stroke="#000" stroke-width="0.9"/>
<text x="469.45" y="943.4" text-anchor="middle">1.0</text>
<line x1="37.8" y1="529.25" x2="42" y2="529.25" stroke="#000" stroke-width="0.9"/>
<text x="33.8" y="533.65" text-anchor="end">1.0</text>
<text class="t" x="255.725" y="522.5" text-anchor="middle">F1-Confidence Curve</text>
<text x="255.725" y="958.9" text-anchor="middle">Confidence</text>
<text transform="translate(8.9,728.325) rotate(-90)" text-anchor="middle">F1</text>
<rect x="492.5" y="535" width="188.5" height="20.8" rx="2.2" fill="#fff" stroke="#ccc" stroke-width="0.9"/>
<line x1="495" y1="544.4" x2="522.6" y2="544.4" stroke="#00f" stroke-width="3.4"/>
<text x="531.5" y="548.6">all classes 0.70 at 0.194</text>
</svg></body></html>
